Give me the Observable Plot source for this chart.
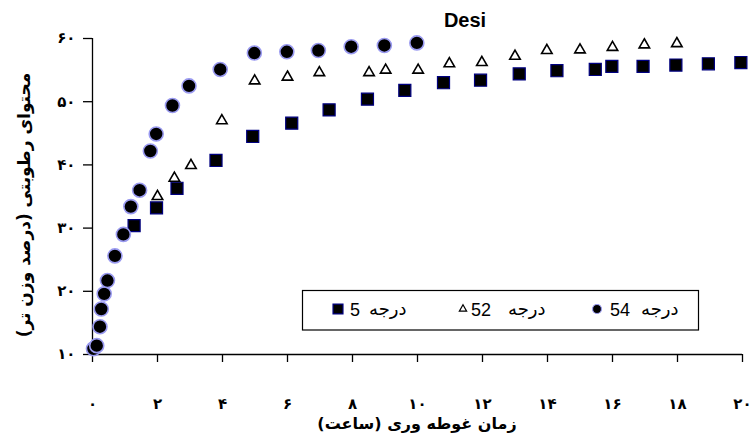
<!DOCTYPE html>
<html>
<head>
<meta charset="utf-8">
<script src="https://cdn.jsdelivr.net/npm/d3@7"></script>
<script src="https://cdn.jsdelivr.net/npm/@observablehq/plot@0.6"></script>
<style>
  html, body { margin: 0; padding: 0; background: #fff; }
  #chart { width: 755px; height: 445px; }
</style>
</head>
<body>
<div id="chart"></div>
<script>
// ---- data ----
const title = "Desi";
const xLabel = "زمان غوطه وری (ساعت)";
const yLabel = "محتوای رطوبتی (درصد وزن تر)";
const legendWord = "درجه";
const legendNums = ["5", "52", "54"];

const xTicks = [0, 2, 4, 6, 8, 10, 12, 14, 16, 18, 20];
const yTicks = [10, 20, 30, 40, 50, 60];

const time5  = [1.28, 1.97, 2.6, 3.8, 4.93, 6.13, 7.28, 8.46, 9.61, 10.8, 11.94, 13.13, 14.29, 15.47, 15.98, 16.94, 17.95, 18.95, 19.95];
const moist5 = [30.4, 33.2, 36.3, 40.7, 44.5, 46.6, 48.7, 50.4, 51.8, 53.0, 53.4, 54.4, 54.9, 55.1, 55.6, 55.6, 55.8, 56.0, 56.2];

const time52  = [2.0, 2.52, 3.03, 3.98, 4.99, 6.0, 6.98, 8.51, 9.02, 10.02, 10.98, 11.98, 13.0, 13.98, 15.0, 16.0, 16.98, 17.98];
const moist52 = [35.0, 37.9, 39.9, 47.0, 53.3, 53.9, 54.6, 54.6, 55.0, 55.0, 56.0, 56.2, 57.2, 58.1, 58.2, 58.6, 59.0, 59.2];

const time54  = [0.03, 0.13, 0.23, 0.27, 0.36, 0.46, 0.69, 0.95, 1.18, 1.45, 1.78, 1.96, 2.46, 2.97, 3.93, 4.98, 5.98, 6.95, 7.96, 8.98, 9.98];
const moist54 = [10.9, 11.4, 14.4, 17.2, 19.6, 21.7, 25.6, 29.0, 33.4, 36.0, 42.2, 44.9, 49.4, 52.5, 55.1, 57.7, 57.9, 58.1, 58.7, 58.9, 59.3];

// ---- helpers ----
const faDigits = "۰۱۲۳۴۵۶۷۸۹";
const fa = v => String(v).replace(/[0-9]/g, d => faDigits[+d]);
const toRows = (xs, ys) => xs.map((x, i) => ({x, y: ys[i]}));
const d5 = toRows(time5, moist5), d52 = toRows(time52, moist52), d54 = toRows(time54, moist54);

const sqStyle  = {symbol: "square", r: 6.8, fill: "black", stroke: "#000080", strokeWidth: 1.2};
const triStyle = {symbol: "triangle", r: 3.9, fill: "white", stroke: "black", strokeWidth: 1.6};
const cirStyle = {symbol: "circle", r: 7, fill: "black", stroke: "#9a9af0", strokeWidth: 1.6};

const W = 755, H = 445, mL = 92, mR = 13, mT = 38, mB = 91;

const chart = Plot.plot({
  width: W, height: H,
  marginLeft: mL, marginRight: mR, marginTop: mT, marginBottom: mB,
  style: {background: "white", fontFamily: "'DejaVu Sans', sans-serif", overflow: "visible"},
  x: {domain: [0, 20]},
  y: {domain: [10, 60]},
  marks: [
    Plot.axisX({ticks: xTicks, tickSize: 8, tickPadding: 36, tickFormat: fa, label: null,
      fontSize: 15, fontWeight: "bold", stroke: "black", strokeWidth: 1.3}),
    Plot.axisY({ticks: yTicks, tickSize: 9, tickPadding: 8, tickFormat: fa, label: null,
      fontSize: 15, fontWeight: "bold", stroke: "black", strokeWidth: 1.3}),
    Plot.ruleY([10], {stroke: "black", strokeWidth: 1.3}),
    Plot.ruleX([0], {stroke: "black", strokeWidth: 1.3}),
    Plot.dot(d5, {x: "x", y: "y", ...sqStyle}),
    Plot.dot(d52, {x: "x", y: "y", ...triStyle}),
    Plot.dot(d54, {x: "x", y: "y", ...cirStyle})
  ]
});
document.getElementById("chart").appendChild(chart);

// ---- titles & legend (overlaid in svg) ----
const svg = d3.select(chart);
svg.append("text").attr("x", 465).attr("y", 27).attr("text-anchor", "middle")
  .attr("font-family", "'Liberation Sans', Arial, sans-serif").attr("font-weight", "bold")
  .attr("font-size", 20).attr("fill", "black").text(title);

svg.append("text").attr("x", 417).attr("y", 429).attr("text-anchor", "middle")
  .attr("font-family", "'DejaVu Sans', sans-serif").attr("font-weight", "bold")
  .attr("font-size", 16).attr("direction", "rtl").attr("fill", "black").text(xLabel);

svg.append("text").attr("transform", "translate(30,205) rotate(-90)").attr("text-anchor", "middle")
  .attr("font-family", "'DejaVu Sans', sans-serif").attr("font-weight", "bold")
  .attr("font-size", 17).attr("direction", "rtl").attr("fill", "black").text(yLabel);

const lg = svg.append("g").attr("text-anchor", "start");
lg.append("rect").attr("x", 302.5).attr("y", 290.5).attr("width", 396).attr("height", 39.5)
  .attr("fill", "white").attr("stroke", "black").attr("stroke-width", 1.2);
const items = [
  {st: sqStyle, r: 5.6, mx: 338, nx: 350, wx: 369},
  {st: triStyle, r: 2.7, mx: 463, nx: 471, wx: 508},
  {st: cirStyle, r: 4.5, mx: 597, nx: 610, wx: 641}
];
const symMap = {square: d3.symbolSquare, triangle: d3.symbolTriangle, circle: d3.symbolCircle};
items.forEach((it, i) => {
  lg.append("path").attr("transform", `translate(${it.mx},309)`)
    .attr("d", d3.symbol(symMap[it.st.symbol], Math.PI * it.r * it.r)())
    .attr("fill", it.st.fill).attr("stroke", it.st.stroke).attr("stroke-width", 1.2);
  lg.append("text").attr("x", it.nx).attr("y", 316).attr("text-anchor", "start")
    .attr("font-family", "'Liberation Sans', Arial, sans-serif").attr("font-size", 18)
    .attr("fill", "black").text(legendNums[i]);
  lg.append("text").attr("x", it.wx).attr("y", 315).attr("text-anchor", "start")
    .attr("font-family", "'DejaVu Sans', sans-serif").attr("font-size", 18)
    .attr("fill", "black").text(legendWord);
});
</script>
</body>
</html>
